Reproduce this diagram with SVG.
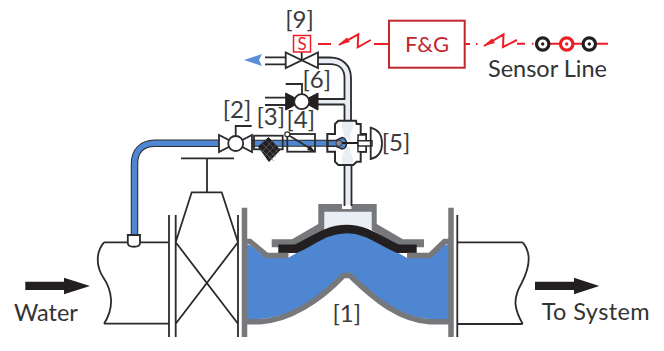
<svg xmlns="http://www.w3.org/2000/svg" width="664" height="351" viewBox="0 0 664 351">
<style>
.t{font-family:Lato,"Noto Sans",sans-serif;fill:#333;font-size:23.500px}
.b{font-family:Lato,"Noto Sans",sans-serif;fill:#3a3a3c;font-size:24px;text-anchor:middle}
.l{fill:none;stroke:#2b2b2d;stroke-width:1.800}
.v{fill:#fff;stroke:#2b2b2d;stroke-width:1.800;stroke-linejoin:miter}
.k{fill:#231f20;stroke:#231f20;stroke-width:1}
.g{fill:none;stroke:#77787b;stroke-width:5.500}
.r{fill:none;stroke:#ee1c25;stroke-width:2}
.c{fill:#fff;stroke:#231f20;stroke-width:3.200}
</style>
<rect width="664" height="351" fill="#fff"/>
<g id="inlet-pipe">
<path class="l" d="M104 242.300H169M104 323.700H169M104 242.300C95 253 96.700 267 103 277C112 290 115 307 104 323.700"/>
</g>
<g id="outlet-pipe">
<path class="l" d="M457.300 242.300H522.700M457.300 324H522.700M522.700 242.300C531.700 253 530 267 521.700 283C511.700 300 515 310 522.700 324"/>
<path class="l" d="M457.300 215V337"/>
</g>
<g id="gate-valve">
<path class="l" d="M169 215V337M175.700 215V337M238 215V337M175.700 242.300L238 323.700M238 242.300L175.700 323.700M175.700 242.300L191.700 192.300H221.700L238 242.300M207 192.300V158.300M181 158.300H234"/>
</g>
<g id="main-valve">
<path fill="#4f86d1" d="M242.500 244L250 245L266.700 258H288L297 252.700C320 235 340 232 346.700 232C355 232 375 235 398 252.700L407 258H430L443 245L452 244V319H430C400 317 375 300 350.500 277H343C320 300 290 317 260 319H242.500Z"/>
<path fill="#e9edf4" d="M324.300 210H371.700V228H324.300Z"/>
<path fill="#77787b" d="M271.700 239.300H292L318.300 224V204H342V209H351.500V204H376.700V224L403 239.300H424V247.300H400L371.700 230V211.700H324.300V230L296 247.300H271.700Z"/>
<path fill="none" stroke="#231f20" stroke-width="8.500" d="M278.300 248.700H296C312 242 325 229 346.700 229C368 229 381 242 398 248.700H416.700"/>
<path class="g" d="M244.500 207.700V337M451 207.700V337M247 241.500H250L267 255.500H288.500M448.500 241.500H444.500L430 255.500H407M247 321.700H260C290 320 320 300 343.500 275.500H350C375 300 400 320 430 321.700H448.500"/>
<text class="b" x="346.700" y="321.700">[1]</text>
</g>
<g id="connectors">
<path fill="#e9edf4" d="M318 57.500H330C343 57.500 351 66 351 78V121H344.500V78C344.500 69 339 64.200 330 64.200H318ZM318 99H344.500V105H318ZM345 165H351.500V205H345Z"/>
<path class="l" d="M318 57.500H330C343 57.500 351 66 351 78V121M318 64.200H330C339 64.200 344.500 69 344.500 78V99H318M344.500 104.500H318M344.500 104.500V121M344.500 166V206M351.500 166V206"/>
<path class="l" d="M265 57.300H285.700M265 64.300H285.700M265 97.700H285.700M265 105H285.700"/>
<path fill="none" stroke="#2b2b2d" stroke-width="7.500" d="M134.500 236V164C134.500 151 142 143.300 155 143.300H222"/>
<path fill="none" stroke="#4f86d1" stroke-width="5.500" d="M134.500 236V164C134.500 151 142 143.300 155 143.300H222"/>
<path fill="none" stroke="#2b2b2d" stroke-width="7" d="M250 143.300H330"/>
<path fill="none" stroke="#4f86d1" stroke-width="5" d="M250 143.300H330"/>
<path fill="#5b8fd6" d="M244 60L262 54L259 60L262 66Z"/>
</g>
<g id="tap">
<path class="v" d="M127.800 235H140V243C140 248 127.800 248 127.800 243Z"/>
</g>
<g id="valve-2">
<path class="v" d="M219 135V152L252 135V152Z"/>
<circle class="v" cx="235.700" cy="143.500" r="7.500"/>
<path class="l" d="M235.700 136V126H251.700"/>
<text class="b" x="237" y="118">[2]</text>
</g>
<g id="strainer-3">
<rect class="l" x="254" y="135.700" width="28.700" height="13.600"/>
<path fill="#231f20" stroke="#231f20" d="M258.500 146.700L268.500 137.500L280 150L269 161.500Z"/>
<path stroke="#777" stroke-width=".6" fill="none" d="M262 143.500L276 157M265.500 140L279 153.500M260.500 149L274 161M262 152L273 140M265 156L276.500 144M268.500 159L279.500 148"/>
<text class="b" x="270.700" y="125">[3]</text>
</g>
<g id="valve-4">
<rect class="l" x="287.300" y="134" width="27.700" height="17.700"/>
<circle cx="287.300" cy="134.300" r="2.500" fill="#fff" stroke="#2b2b2d" stroke-width="1.200"/>
<path class="l" d="M289 135.500L311 149"/>
<path fill="#231f20" d="M315 151.700L307 150L310 145.500Z"/>
<text class="b" x="300.700" y="128">[4]</text>
</g>
<g id="pilot-5">
<path fill="#fff" stroke="#2b2b2d" stroke-width="2" d="M335 124L338.300 120.700H356L356.700 124H360.700V134H366V151.700H360.700V161.700H356.700L353.300 165H338.300L335 161.700V151.700H327.300V134H335Z"/>
<path fill="#e9edf4" d="M342 122H353V128L350 135L350 139H344V135L342 128ZM344 147H350V151L353 158V164H342V158L344 151Z"/>
<path fill="#4f86d1" stroke="#2b2b2d" stroke-width="1.500" d="M328 140.500H336L342 137.500C345 138 346.500 141 346.500 143.300C346.500 146 345 148.500 342 149L336 146.300H328Z"/>
<circle cx="339" cy="143.300" r="3" fill="#8a8c8e" stroke="#2b2b2d" stroke-width=".8"/>
<path fill="none" stroke="#231f20" stroke-width="2" d="M342 143H360"/>
<path fill="#fff" stroke="#2b2b2d" stroke-width="1.500" d="M358 135H366V151.700H358Z"/>
<path fill="#fff" stroke="#2b2b2d" stroke-width="1.500" d="M358 140.700H372V146H358Z"/>
<path class="l" d="M370.700 127.700C380 130 382 138 382 143.500C382 150 380 157 370.700 159Z" fill="#fff"/>
<text class="b" x="396" y="150.700">[5]</text>
</g>
<g id="valve-6">
<path class="k" d="M285.700 93V110L318 93V110Z"/>
<circle class="v" cx="301.700" cy="101.700" r="7.500"/>
<path class="l" d="M302 94V84H285.700"/>
<text class="b" x="316.700" y="88">[6]</text>
</g>
<g id="solenoid-9">
<path class="v" d="M285.700 52.500V68L318 52.500V68Z"/>
<path class="l" d="M301.700 60V52"/>
<rect x="293.500" y="35.500" width="17" height="16.500" fill="#fff" stroke="#ee1c25" stroke-width="1.500"/>
<text x="302" y="50" font-family="Lato,'Noto Sans',sans-serif" font-size="17" fill="#ee1c25" text-anchor="middle">S</text>
<text class="b" x="299.500" y="28">[9]</text>
</g>
<g id="signal-left">
<path class="r" d="M318 44H331M339 45L358.300 34.300L357.700 47.300L370.700 40M374 44H389"/>
<path fill="#ee1c25" d="M338 45L347 37.500L350 42Z"/>
</g>
<g id="fg-panel">
<rect x="389" y="20.700" width="75.700" height="47" fill="#fff" stroke="#c1272d" stroke-width="2"/>
<text x="427" y="52" font-family="Lato,'Noto Sans',sans-serif" font-size="22" fill="#c1272d" text-anchor="middle">F&amp;G</text>
</g>
<g id="sensor-line">
<path class="r" d="M464.700 44H470M476 44H477.500M484 46L503.500 34.300L503 47L517 40M517 43.700H525M532 43.700H533.500M550 43.700H560M573 43.700H582M597 43.700H608"/>
<path fill="#ee1c25" d="M483.300 46L492 38.500L495 43Z"/>
<circle class="c" cx="542.700" cy="44" r="6.200"/><circle cx="542.700" cy="44" r="1.700" fill="#231f20"/>
<circle class="c" cx="566.700" cy="44" r="6.200" style="stroke:#ee1c25"/><circle cx="566.700" cy="44" r="1.700" fill="#ee1c25"/>
<circle class="c" cx="589.300" cy="44" r="6.200"/><circle cx="589.300" cy="44" r="1.700" fill="#231f20"/>
<text class="t" x="488" y="76.700">Sensor Line</text>
</g>
<g id="water-label">
<path fill="#231f20" d="M25.300 281.700H64V277.700L90 286L64 294.300V290H25.300Z"/>
<text class="t" x="14" y="321">Water</text>
</g>
<g id="system-label">
<path fill="#231f20" d="M535 281.700H574V277.700L599.300 286L574 294.300V290H535Z"/>
<text class="t" x="541.700" y="320" textLength="108">To System</text>
</g>
</svg>
